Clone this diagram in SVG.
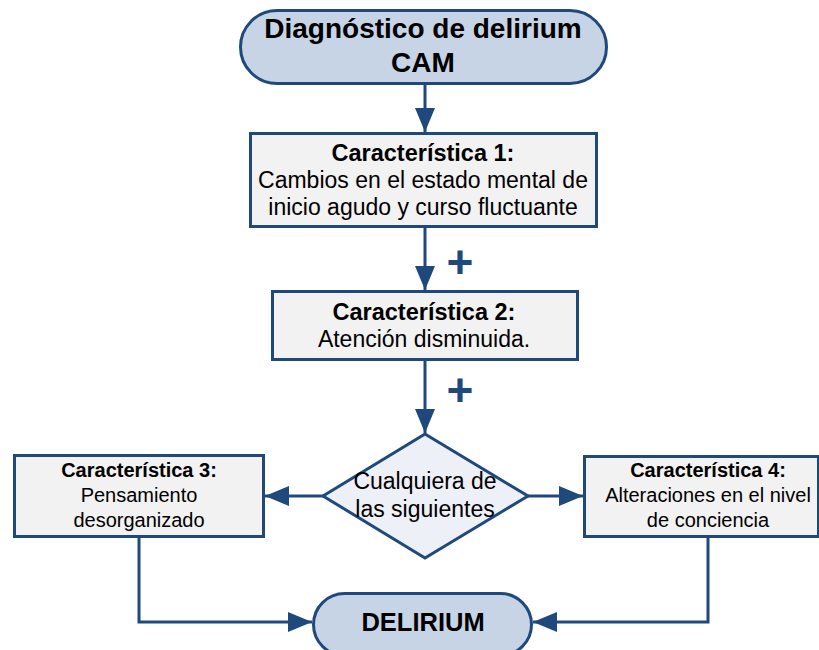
<svg xmlns="http://www.w3.org/2000/svg" width="819" height="650" viewBox="0 0 819 650">
<style>
.term{fill:#c6d4e6;stroke:#1f497d;stroke-width:3}
.box{fill:#f2f2f2;stroke:#1f497d;stroke-width:3}
.dia{fill:#edf0f6;stroke:#1f497d;stroke-width:3}
.con{fill:none;stroke:#1f497d;stroke-width:3}
text{font-family:"Liberation Sans",Arial,sans-serif;fill:#000;text-anchor:middle}
.b{font-weight:bold}
.plus{fill:#1f497d;font-weight:bold;font-size:46px}
</style>
<defs>
<marker id="ah" markerUnits="userSpaceOnUse" markerWidth="26" markerHeight="20" refX="24" refY="10" orient="auto">
<path d="M0,0 L24,10 L0,20 Z" fill="#1f497d"/>
</marker>
</defs>
<g id="connectors">
<line class="con" x1="425" y1="84" x2="425" y2="132" marker-end="url(#ah)"/>
<line class="con" x1="425" y1="227" x2="425" y2="290" marker-end="url(#ah)"/>
<line class="con" x1="425" y1="360" x2="425" y2="433" marker-end="url(#ah)"/>
<line class="con" x1="323" y1="496" x2="265" y2="496" marker-end="url(#ah)"/>
<line class="con" x1="528" y1="496" x2="583" y2="496" marker-end="url(#ah)"/>
<polyline class="con" points="139,537 139,622 312,622" marker-end="url(#ah)"/>
<polyline class="con" points="708,537 708,622 533,622" marker-end="url(#ah)"/>
<text class="plus" x="460" y="278">+</text>
<text class="plus" x="460" y="406">+</text>
</g>
<g id="start">
<rect class="term" x="240.5" y="10.5" width="366" height="73" rx="36.5"/>
<text class="b" x="423" y="38" font-size="28">Diagnóstico de delirium</text>
<text class="b" x="423" y="72" font-size="28">CAM</text>
</g>
<g id="c1">
<rect class="box" x="250.5" y="133.5" width="346" height="93"/>
<text class="b" x="423" y="161" font-size="23.5">Característica 1:</text>
<text x="423" y="188" font-size="23">Cambios en el estado mental de</text>
<text x="423" y="215" font-size="23">inicio agudo y curso fluctuante</text>
</g>
<g id="c2">
<rect class="box" x="272.5" y="291.5" width="305" height="68"/>
<text class="b" x="424" y="320" font-size="23.5">Característica 2:</text>
<text x="424" y="347" font-size="23">Atención disminuida.</text>
</g>
<g id="decision">
<polygon class="dia" points="425,434 528,496 425,558 323,496"/>
<text x="425" y="489" font-size="23">Cualquiera de</text>
<text x="425" y="517" font-size="23">las siguientes</text>
</g>
<g id="c3">
<rect class="box" x="14.5" y="455.5" width="249" height="81"/>
<text class="b" x="139" y="477" font-size="20">Característica 3:</text>
<text x="139" y="502" font-size="20">Pensamiento</text>
<text x="139" y="527" font-size="20">desorganizado</text>
</g>
<g id="c4">
<rect class="box" x="584.5" y="456.5" width="234" height="80"/>
<text class="b" x="708" y="477" font-size="20">Característica 4:</text>
<text x="708" y="502" font-size="20">Alteraciones en el nivel</text>
<text x="708" y="527" font-size="20">de conciencia</text>
</g>
<g id="end">
<rect class="term" x="313.5" y="593.5" width="218" height="62" rx="31"/>
<text class="b" x="423" y="631" font-size="25.5">DELIRIUM</text>
</g>
</svg>
